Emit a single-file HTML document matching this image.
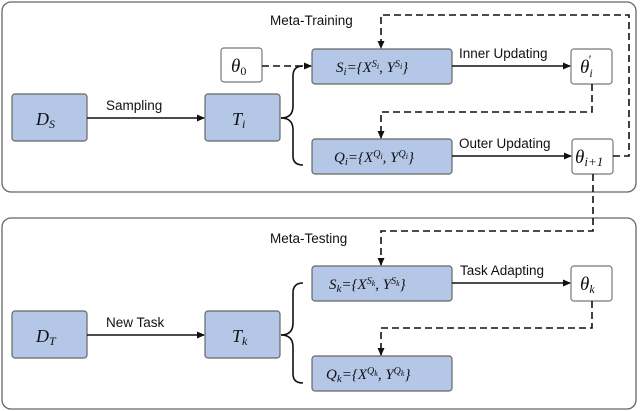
<!DOCTYPE html>
<html><head><meta charset="utf-8"><style>
html,body{margin:0;padding:0;background:#fff;}
svg{display:block;}
.l{font-family:"Liberation Sans",sans-serif;font-size:13.5px;fill:#111;}
.m{font-family:"Liberation Serif",serif;font-style:italic;fill:#111;}
</style></head><body>
<svg width="640" height="411" viewBox="0 0 640 411" xmlns="http://www.w3.org/2000/svg">
<defs><marker id="a" markerWidth="8" markerHeight="8" refX="7" refY="4" orient="auto" markerUnits="userSpaceOnUse"><path d="M0,0.5 L8,4 L0,7.5 z" fill="#111"/></marker></defs>
<rect x="2" y="2" width="634" height="190" rx="9" fill="#fff" stroke="#666" stroke-width="1.3"/>
<rect x="2" y="218" width="634" height="191" rx="9" fill="#fff" stroke="#666" stroke-width="1.3"/>
<g fill="#b4c7e7" stroke="#666" stroke-width="1.2">
<rect x="12" y="94" width="75" height="47" rx="3"/>
<rect x="205" y="94" width="75" height="47" rx="3"/>
<rect x="312" y="49" width="140" height="35" rx="3"/>
<rect x="312" y="139" width="140" height="35" rx="3"/>
<rect x="12" y="311" width="75" height="47" rx="3"/>
<rect x="205" y="311" width="75" height="47" rx="3"/>
<rect x="312" y="266" width="140" height="35" rx="3"/>
<rect x="312" y="356" width="140" height="35" rx="3"/>
</g>
<g fill="#fff" stroke="#777" stroke-width="1.2">
<rect x="221" y="48" width="41" height="34" rx="3"/>
<rect x="571" y="49" width="41" height="35" rx="3"/>
<rect x="572" y="139" width="41" height="35" rx="3"/>
<rect x="571" y="266" width="41" height="35" rx="3"/>
</g>
<g stroke="#111" stroke-width="1.6" fill="none">
<line x1="87" y1="118" x2="204" y2="118" marker-end="url(#a)"/>
<line x1="452" y1="66" x2="570" y2="66" marker-end="url(#a)"/>
<line x1="452" y1="156" x2="571" y2="156" marker-end="url(#a)"/>
<line x1="87" y1="335" x2="204" y2="335" marker-end="url(#a)"/>
<line x1="452" y1="283" x2="570" y2="283" marker-end="url(#a)"/>
<path d="M281,118 Q293,118 293,106 L293,76 Q293,66 303,66"/>
<path d="M281,118 Q293,118 293,130 L293,156 Q293,165 303,165"/>
<path d="M281,335 Q293,335 293,323 L293,293 Q293,283 303,283"/>
<path d="M281,335 Q293,335 293,347 L293,374 Q293,383 303,383"/>
</g>
<g stroke="#111" stroke-width="1.6" fill="none" stroke-dasharray="7,4">
<line x1="262" y1="66" x2="311" y2="66" marker-end="url(#a)"/>
<path d="M613,156 L629,156 L629,15 L381,15 L381,48" marker-end="url(#a)"/>
<path d="M592,84 L592,112 L381,112 L381,138" marker-end="url(#a)"/>
<path d="M593,174 L593,231 L381,231 L381,265" marker-end="url(#a)"/>
<path d="M592,301 L592,328 L381,328 L381,355" marker-end="url(#a)"/>
</g>
<text class="l" x="270" y="25">Meta-Training</text>
<text class="l" x="270" y="243">Meta-Testing</text>
<text class="l" x="106" y="110">Sampling</text>
<text class="l" x="106" y="327">New Task</text>
<text class="l" x="459" y="58">Inner Updating</text>
<text class="l" x="459" y="148">Outer Updating</text>
<text class="l" x="460" y="275">Task Adapting</text>
<text class="m" x="36" y="125" font-size="18">D<tspan font-size="12" dy="3">S</tspan></text>
<text class="m" x="232" y="125" font-size="18">T<tspan font-size="12" dy="3">i</tspan></text>
<text class="m" x="36" y="342" font-size="18">D<tspan font-size="12" dy="3">T</tspan></text>
<text class="m" x="232" y="342" font-size="18">T<tspan font-size="12" dy="3">k</tspan></text>
<text class="m" x="231" y="72" font-size="19">θ<tspan font-size="12" dy="3" font-style="normal">0</tspan></text>
<text class="m" x="580" y="73" font-size="19">θ<tspan font-size="12" dy="4">i</tspan><tspan font-size="13" dx="-4" dy="-13" font-style="normal">′</tspan></text>
<text class="m" x="575" y="163" font-size="19">θ<tspan font-size="13" dy="3">i+1</tspan></text>
<text class="m" x="580" y="290" font-size="19">θ<tspan font-size="12" dy="3">k</tspan></text>
<text class="m" x="336" y="72" font-size="15">S<tspan font-size="11" dy="3">i</tspan><tspan dy="-3">={X</tspan><tspan font-size="10" dy="-5">S</tspan><tspan font-size="8" dy="2">i</tspan><tspan dy="3">, Y</tspan><tspan font-size="10" dy="-5">S</tspan><tspan font-size="8" dy="2">i</tspan><tspan dy="3">}</tspan></text>
<text class="m" x="334" y="162" font-size="15">Q<tspan font-size="11" dy="3">i</tspan><tspan dy="-3">={X</tspan><tspan font-size="10" dy="-5">Q</tspan><tspan font-size="8" dy="2">i</tspan><tspan dy="3">, Y</tspan><tspan font-size="10" dy="-5">Q</tspan><tspan font-size="8" dy="2">i</tspan><tspan dy="3">}</tspan></text>
<text class="m" x="329" y="289" font-size="15">S<tspan font-size="11" dy="3">k</tspan><tspan dy="-3">={X</tspan><tspan font-size="10" dy="-5">S</tspan><tspan font-size="8" dy="2">k</tspan><tspan dy="3">, Y</tspan><tspan font-size="10" dy="-5">S</tspan><tspan font-size="8" dy="2">k</tspan><tspan dy="3">}</tspan></text>
<text class="m" x="326" y="379" font-size="15">Q<tspan font-size="11" dy="3">k</tspan><tspan dy="-3">={X</tspan><tspan font-size="10" dy="-5">Q</tspan><tspan font-size="8" dy="2">k</tspan><tspan dy="3">, Y</tspan><tspan font-size="10" dy="-5">Q</tspan><tspan font-size="8" dy="2">k</tspan><tspan dy="3">}</tspan></text>
</svg>
</body></html>
